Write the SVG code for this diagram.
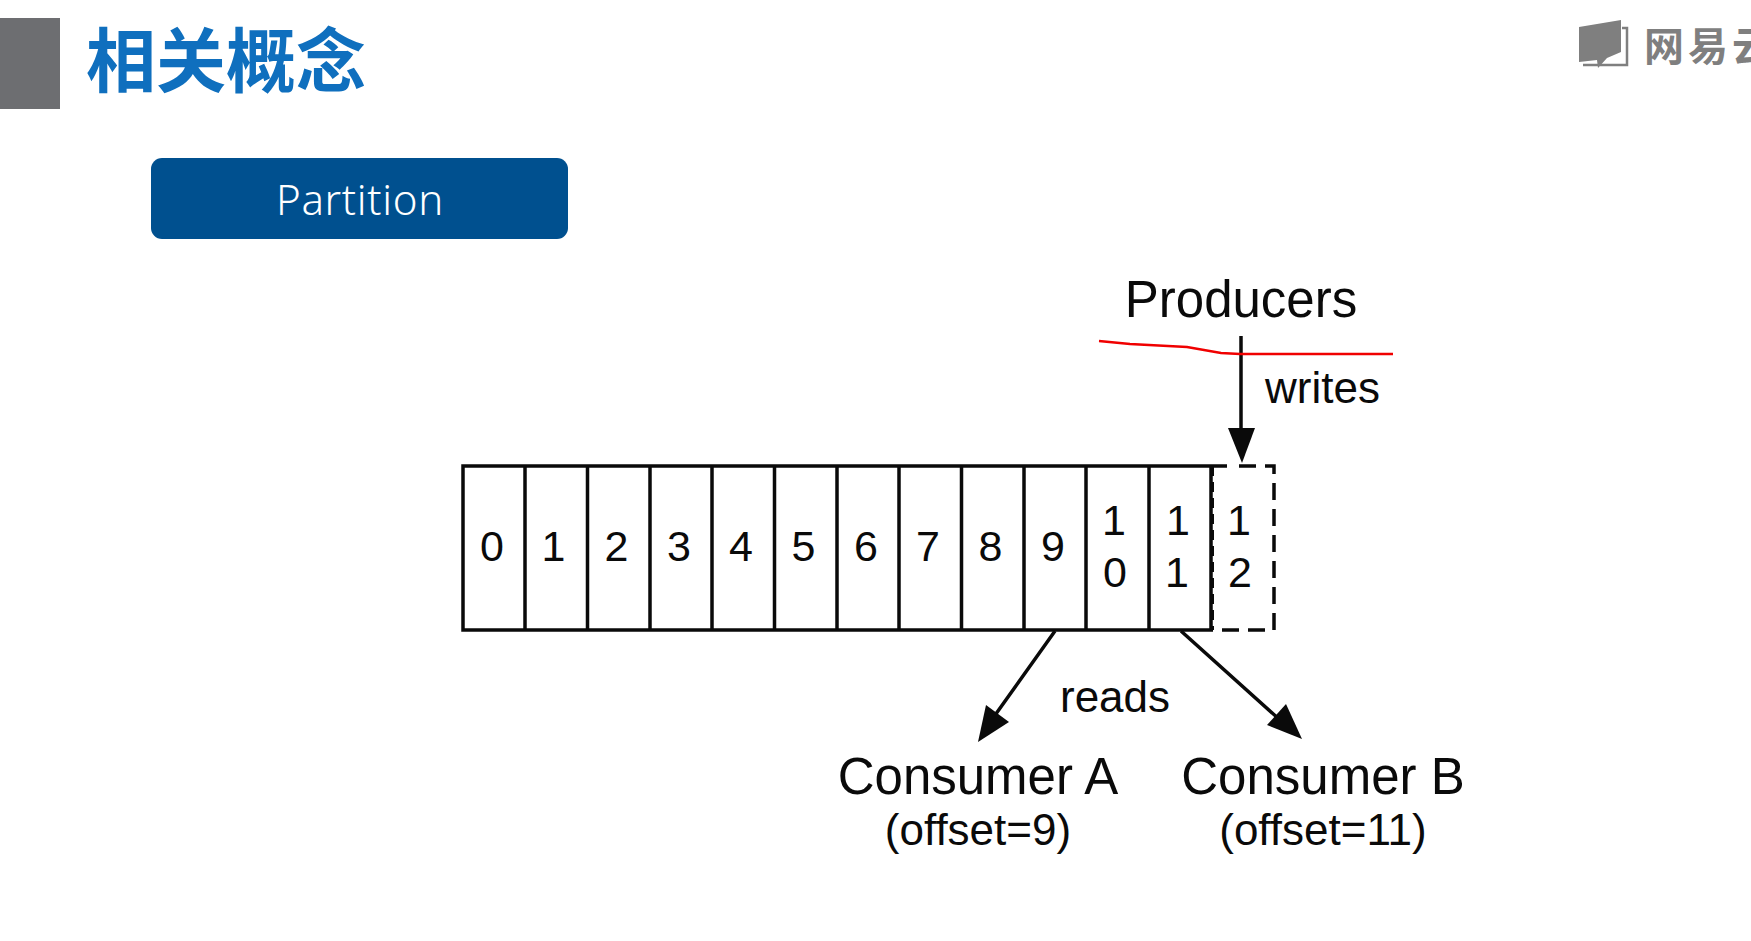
<svg xmlns="http://www.w3.org/2000/svg" width="1751" height="941" viewBox="0 0 1751 941">
<style>
text{font-family:"Liberation Sans",Arial,sans-serif;fill:#0a0a0a}
.d{font-size:43px;text-anchor:middle}
.l{font-size:51px;text-anchor:middle}
.m{font-size:44px}
.s{font-size:44px;text-anchor:middle}
.cell{fill:none;stroke:#0a0a0a;stroke-width:3.500}
.dash{fill:none;stroke:#0a0a0a;stroke-width:3.500;stroke-dasharray:17 9}
.ln{fill:none;stroke:#0a0a0a;stroke-width:3.500}
</style>
<rect width="1751" height="941" fill="#fff"/>
<g id="header-mark"><rect x="0" y="18" width="60" height="91" fill="#6d6e71"/></g>
<g id="title"><text x="86" y="87" style="font-family:'Noto Sans CJK SC','Noto Sans',sans-serif;font-size:70px;font-weight:700;fill:#0f6fbe">相关概念</text></g>
<g id="logo">
<path d="M1579 27L1621 20V52L1607 58L1598 68L1597 60L1579 62Z" fill="#7f7f7f"/>
<path d="M1622 28H1627V65H1583" fill="none" stroke="#7f7f7f" stroke-width="2.500"/>
<text x="1644" y="61" style="font-family:'Noto Sans CJK SC',sans-serif;font-size:40px;font-weight:700;letter-spacing:4px;fill:#7f7f7f">网易云</text>
</g>
<g id="partition-label">
<rect x="151" y="158" width="417" height="81" rx="11" fill="#00508f"/>
<text x="360" y="215" text-anchor="middle" style="font-family:'Noto Sans',sans-serif;font-size:42px;font-weight:300;fill:#fff;letter-spacing:.7px">Partition</text>
</g>
<g id="log">
<path class="cell" d="M1227 466H463V630H1212M525 466V630M587.5 466V630M650 466V630M712 466V630M774.5 466V630M837 466V630M899 466V630M961.5 466V630M1024 466V630M1086 466V630M1149 466V630M1211 466V630"/>
<path class="dash" d="M1239 466H1274V630H1212"/>
<path d="M1213 466V630" fill="none" stroke="#0a0a0a" stroke-width="2" stroke-dasharray="10 6"/>
</g>
<g id="offsets">
<text class="d" x="492" y="561">0</text>
<text class="d" x="553.500" y="561">1</text>
<text class="d" x="616.500" y="561">2</text>
<text class="d" x="679" y="561">3</text>
<text class="d" x="741" y="561">4</text>
<text class="d" x="803.500" y="561">5</text>
<text class="d" x="866" y="561">6</text>
<text class="d" x="928" y="561">7</text>
<text class="d" x="990.500" y="561">8</text>
<text class="d" x="1053" y="561">9</text>
<text class="d" x="1114" y="535">1</text><text class="d" x="1115" y="587">0</text>
<text class="d" x="1178" y="535">1</text><text class="d" x="1177" y="587">1</text>
<text class="d" x="1239" y="535">1</text><text class="d" x="1240" y="587">2</text>
</g>
<g id="connectors">
<path class="ln" d="M1241 336V430M1055 631L993 718M1181 631L1280 720"/>
<path d="M1228 428H1255L1242 463Z" fill="#0a0a0a"/>
<path d="M978 742L986 705L1009 722Z" fill="#0a0a0a"/>
<path d="M1302 739L1267 725L1286 704Z" fill="#0a0a0a"/>
</g>
<g id="producers"><text class="l" x="1241" y="317">Producers</text></g>
<g id="writes"><text class="m" x="1265" y="403">writes</text></g>
<g id="reads"><text class="m" x="1060" y="712">reads</text></g>
<g id="consumer-a"><text class="l" x="978" y="794">Consumer A</text><text class="s" x="978" y="845">(offset=9)</text></g>
<g id="consumer-b"><text class="l" x="1323" y="794">Consumer B</text><text class="s" x="1323" y="845">(offset=11)</text></g>
<g id="annotation"><path d="M1099 341L1130 344L1187 347L1221 353L1240 354H1393" fill="none" stroke="#f00000" stroke-width="2.500"/></g>
</svg>
